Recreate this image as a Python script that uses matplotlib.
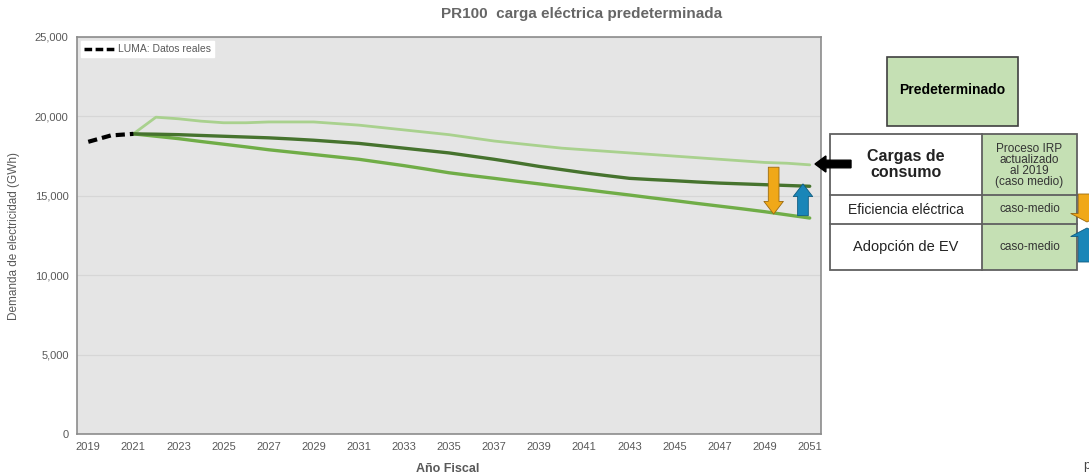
import matplotlib
matplotlib.use("Agg")
import matplotlib.pyplot as plt
from matplotlib.patches import Rectangle, FancyArrow
from matplotlib.lines import Line2D

plt.rcParams['font.family'] = ['Liberation Sans', 'DejaVu Sans']

# ---- data ----
years_luma = [2019, 2020, 2021]
luma_real = [18400, 18800, 18900]

years = list(range(2021, 2052))
carga_consumo = [18900, 19950, 19850, 19700, 19600, 19600, 19650, 19650, 19650, 19550,
                 19450, 19300, 19150, 19000, 18850, 18650, 18450, 18300, 18150, 18000,
                 17900, 17800, 17700, 17600, 17500, 17400, 17300, 17200, 17100, 17050, 16950]
carga_predet = [18900, 18880, 18850, 18800, 18750, 18700, 18650, 18580, 18500, 18400,
                18300, 18150, 18000, 17850, 17700, 17500, 17300, 17080, 16850, 16650,
                16450, 16270, 16100, 16020, 15950, 15870, 15800, 15750, 15700, 15650, 15600]
con_eficiencia = [18900, 18750, 18600, 18420, 18250, 18080, 17900, 17750, 17600, 17450,
                  17300, 17100, 16900, 16680, 16450, 16270, 16100, 15920, 15750, 15570,
                  15400, 15220, 15050, 14870, 14700, 14520, 14350, 14180, 14000, 13800, 13600]

xticks = list(range(2019, 2052, 2))
yticks = [0, 5000, 10000, 15000, 20000, 25000]

title = "PR100  carga eléctrica predeterminada"
xlabel = "Año Fiscal"
ylabel = "Demanda de electricidad (GWh)"
legend_label = "LUMA: Datos reales"

W, H = 1089, 474
fig = plt.figure(figsize=(W / 100, H / 100), dpi=100)
fig.patch.set_facecolor("white")

def fx(px):
    return px / W

def fy(py):
    return 1 - py / H

ax = fig.add_axes([fx(77), fy(434), fx(821) - fx(77), fy(37) - fy(434)])
ax.set_facecolor("#e5e5e5")
ax.set_xlim(2018.5, 2051.5)
ax.set_ylim(0, 25000)
ax.set_yticks(yticks)
ax.set_yticklabels([f"{v:,}" for v in yticks])
ax.set_xticks(xticks)
ax.tick_params(axis='both', length=0, labelsize=8, colors="#595959", pad=6)
ax.grid(axis='y', color="#d6d6d6", linewidth=0.9)
ax.set_axisbelow(True)
for s in ax.spines.values():
    s.set_color("#8c8c8c")
    s.set_linewidth(1.2)

ax.plot(years, carga_consumo, color="#a9d18e", lw=2.0, solid_capstyle='round')
ax.plot(years, con_eficiencia, color="#70ad47", lw=2.4, solid_capstyle='round')
ax.plot(years, carga_predet, color="#46732e", lw=2.4, solid_capstyle='round')
ax.plot(years_luma, luma_real, color="black", lw=3, ls=(0, (2.2, 1.2)))

# legend
leg_handle = Line2D([], [], color="black", lw=2.5, ls=(0, (2.2, 1.0)))
leg = ax.legend([leg_handle], [legend_label], loc="upper left", bbox_to_anchor=(0.0, 1.0),
                frameon=True, fancybox=False, framealpha=1, edgecolor="white",
                fontsize=7.5, handlelength=3.0, handletextpad=0.2, borderpad=0.3,
                borderaxespad=0.4, labelcolor="#595959")

# in-plot arrows (orange down, blue up)
astyle = "simple,head_width=1.0,head_length=0.65,tail_width=0.55"
ax.annotate("", xy=(2049.4, 13850), xytext=(2049.4, 16800),
            arrowprops=dict(arrowstyle=astyle, mutation_scale=14, shrinkA=0, shrinkB=0,
                            fc="#f0a818", ec="#9a6a10", lw=0.6))
ax.annotate("", xy=(2050.7, 15750), xytext=(2050.7, 13750),
            arrowprops=dict(arrowstyle=astyle, mutation_scale=14, shrinkA=0, shrinkB=0,
                            fc="#1a86b8", ec="#0f5c80", lw=0.6))

ax.set_xlabel(xlabel, fontsize=9, fontweight="bold", color="#595959", labelpad=2)
ax.set_ylabel(ylabel, fontsize=8.5, color="#595959", labelpad=8)
ax.xaxis.set_label_coords((448 - 77) / (821 - 77), -0.072)
ax.yaxis.set_label_coords(-(77 - 20) / (821 - 77), 0.5)

fig.text(fx(582), fy(14), title, ha="center", va="center", fontsize=11,
         fontweight="bold", color="#666666")

# ---- right panel ----
green = "#c5e0b4"
edge = "#404040"
narrow = ["Liberation Sans Narrow", "Liberation Sans"]
fig.patches.append(Rectangle((fx(887), fy(126)), fx(1018) - fx(887), fy(57) - fy(126),
                             transform=fig.transFigure, fc=green, ec=edge, lw=1.2))
fig.text(fx(952), fy(90), "Predeterminado", ha="center", va="center", fontsize=10,
         fontweight="bold", family=narrow, color="black")

x0, x1, x2 = 830, 982, 1077
y0, y1, y2, y3 = 134, 195, 224, 270
fig.patches.append(Rectangle((fx(x0), fy(y3)), fx(x2) - fx(x0), fy(y0) - fy(y3),
                             transform=fig.transFigure, fc="white", ec="none"))
fig.patches.append(Rectangle((fx(x1), fy(y3)), fx(x2) - fx(x1), fy(y0) - fy(y3),
                             transform=fig.transFigure, fc=green, ec="none"))
fig.patches.append(Rectangle((fx(x0), fy(y3)), fx(x2) - fx(x0), fy(y0) - fy(y3),
                             transform=fig.transFigure, fc="none", ec="#606060", lw=1.3))
for yy in (y1, y2):
    fig.lines.append(Line2D([fx(x0), fx(x2)], [fy(yy), fy(yy)], transform=fig.transFigure,
                            color="#606060", lw=1.3))
fig.lines.append(Line2D([fx(x1), fx(x1)], [fy(y0), fy(y3)], transform=fig.transFigure,
                        color="#606060", lw=1.3))

fig.text(fx((x0 + x1) / 2), fy((y0 + y1) / 2), "Cargas de\nconsumo", ha="center", va="center",
         fontsize=11.5, fontweight="bold", color="#222222", linespacing=1.15)
fig.text(fx((x0 + x1) / 2), fy((y1 + y2) / 2), "Eficiencia eléctrica", ha="center", va="center",
         fontsize=10, color="#222222")
fig.text(fx((x0 + x1) / 2), fy((y2 + y3) / 2), "Adopción de EV", ha="center", va="center",
         fontsize=10.5, color="#222222")
fig.text(fx((x1 + x2) / 2), fy((y0 + y1) / 2 + 1), "Proceso IRP\nactualizado\nal 2019\n(caso medio)",
         ha="center", va="center", fontsize=8.5, family=narrow, color="#333333", linespacing=0.92)
fig.text(fx((x1 + x2) / 2), fy((y1 + y2) / 2), "caso-medio", ha="center", va="center",
         fontsize=8.5, family=narrow, color="#333333")
fig.text(fx((x1 + x2) / 2), fy((y2 + y3) / 2), "caso-medio", ha="center", va="center",
         fontsize=8.5, family=narrow, color="#333333")

# black arrow pointing left
fig.patches.append(FancyArrow(fx(851), fy(164), fx(815) - fx(851), 0, width=0.016,
                              head_width=0.034, head_length=0.010, transform=fig.transFigure,
                              fc="black", ec="black", length_includes_head=True))
# cut-off arrows at far right
fig.patches.append(FancyArrow(fx(1087), fy(194), 0, fy(222) - fy(194), width=0.016,
                              head_width=0.030, head_length=0.018, transform=fig.transFigure,
                              fc="#f0a818", ec="#9a6a10", lw=0.6, length_includes_head=True))
fig.patches.append(FancyArrow(fx(1087), fy(262), 0, fy(228) - fy(262), width=0.016,
                              head_width=0.030, head_length=0.018, transform=fig.transFigure,
                              fc="#1a86b8", ec="#0f5c80", lw=0.6, length_includes_head=True))
fig.text(fx(1083), fy(466), "p", ha="left", va="center", fontsize=9, color="#444444")

fig.savefig("out.png", dpi=100, facecolor="white")
